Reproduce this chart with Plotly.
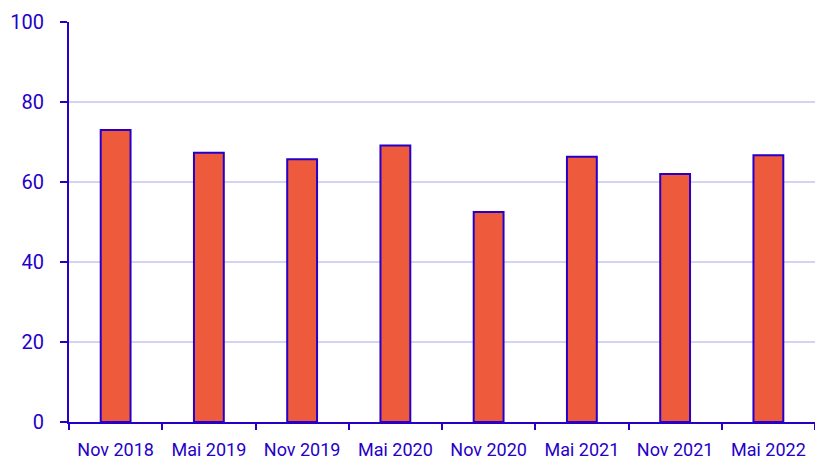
import plotly.graph_objects as go

categories = ["Nov 2018", "Maj 2019", "Nov 2019", "Maj 2020", "Nov 2020", "Maj 2021", "Nov 2021", "Maj 2022"]
values = [73.0, 67.3, 65.7, 69.1, 52.5, 66.3, 62.0, 66.7]
y_ticks = [0, 20, 40, 60, 80, 100]

blue = "#2600C8"

fig = go.Figure(go.Bar(
    x=categories, y=values,
    marker=dict(color="#EE5A3C", line=dict(color=blue, width=2)),
    width=0.32,
))

fig.update_layout(
    width=815, height=456,
    margin=dict(l=69, r=0, t=22, b=34),
    plot_bgcolor="white", paper_bgcolor="white",
    font=dict(family="Roboto", color=blue),
    showlegend=False,
    bargap=0.68,
)
fig.update_xaxes(
    type="category", tickson="boundaries", ticks="outside", ticklen=6, tickwidth=2,
    tickcolor=blue, showline=True, linecolor=blue, linewidth=2,
    tickfont=dict(size=18, color=blue), ticklabelstandoff=10, showgrid=False,
    automargin=False,
)
fig.update_yaxes(
    range=[0, 100], tickvals=y_ticks, ticks="outside", ticklen=7, tickwidth=2,
    tickcolor=blue, showline=True, linecolor=blue, linewidth=2,
    gridcolor="#D4D4F2", gridwidth=2, zeroline=False,
    tickfont=dict(size=20, color=blue), ticklabelstandoff=12,
    automargin=False,
)

fig.write_html(
    "out.html",
    config={"displayModeBar": False},
    post_script="document.body.style.margin='0';document.body.style.overflow='hidden';",
)
